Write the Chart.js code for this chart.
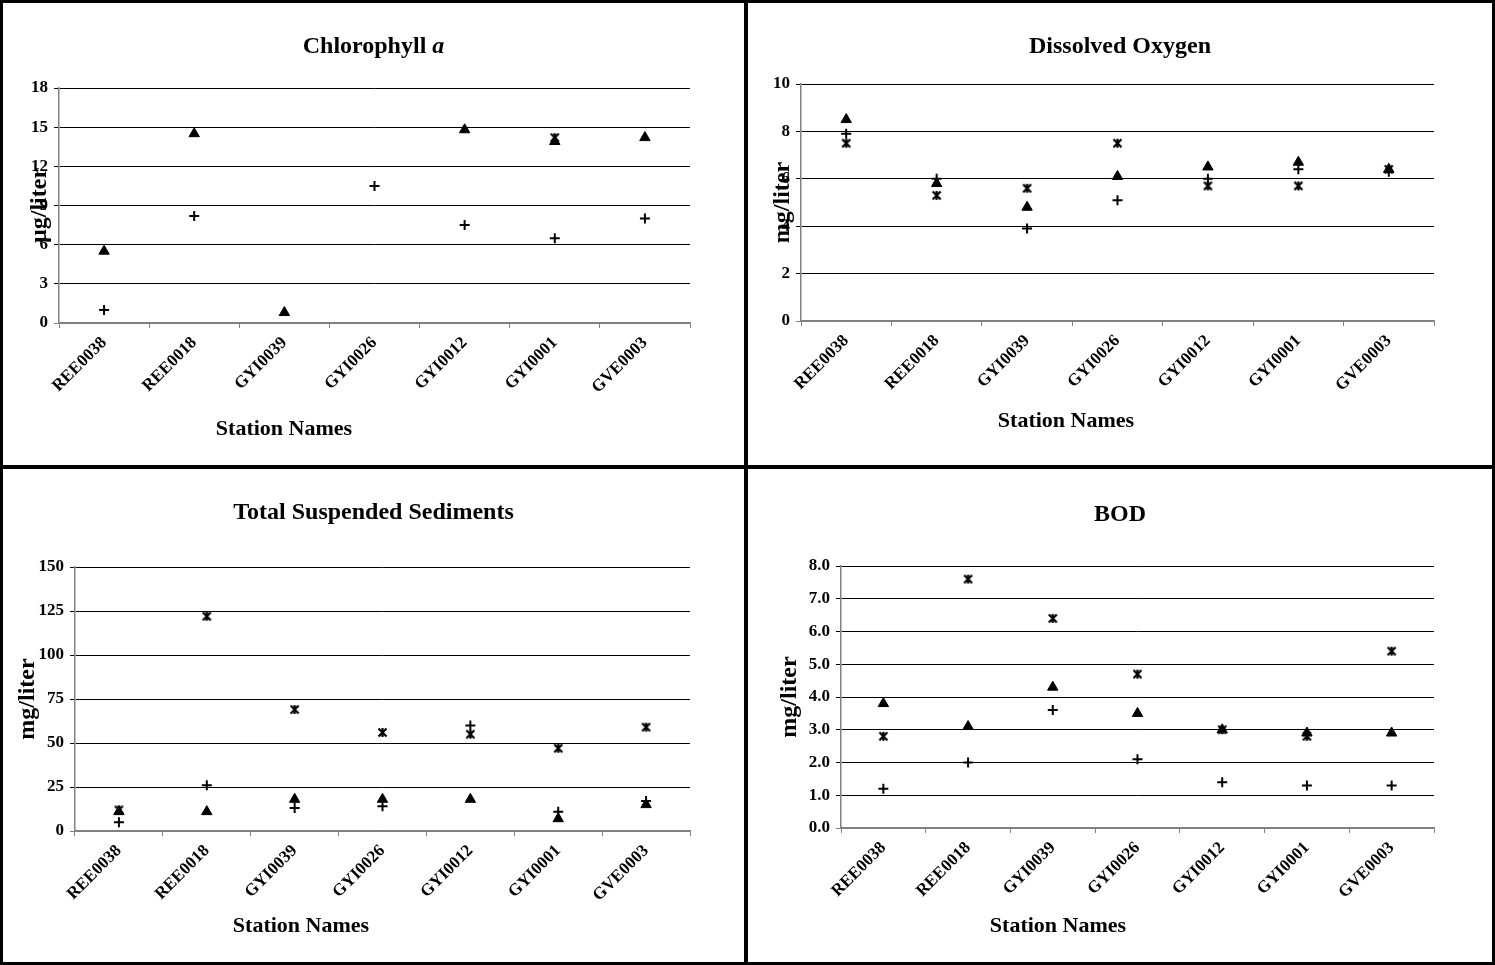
<!DOCTYPE html>
<html>
<head>
<meta charset="utf-8">
<script src="https://cdn.jsdelivr.net/npm/chart.js@4.4.0/dist/chart.umd.min.js"></script>
<style>
  html, body { margin: 0; padding: 0; background: #fff; }
  #grid {
    width: 1495px; height: 965px; box-sizing: border-box;
    background: #000; padding: 3px;
    display: grid; grid-template-columns: 741px 744px; grid-template-rows: 462px 493px; gap: 4px;
  }
  .panel { background: #fff; position: relative; overflow: hidden; }
  .panel canvas { position: absolute; left: 0; top: 0; }
</style>
</head>
<body>
<div id="grid">
  <div class="panel"><canvas id="chl" width="741" height="462"></canvas></div>
  <div class="panel"><canvas id="do" width="744" height="462"></canvas></div>
  <div class="panel"><canvas id="tss" width="741" height="493"></canvas></div>
  <div class="panel"><canvas id="bod" width="744" height="493"></canvas></div>
</div>
<script>
const stations = ['REE0038', 'REE0018', 'GYI0039', 'GYI0026', 'GYI0012', 'GYI0001', 'GVE0003'];
const seriesNames = ['Sampling 1', 'Sampling 2', 'Sampling 3'];

// Chlorophyll a (µg/liter)
const chlTriangle = [5.5, 14.5, 0.8, null, 14.8, 13.9, 14.2];
const chlPlus     = [1.0, 8.2, null, 10.5, 7.5, 6.5, 8.0];
const chlStar     = [null, null, null, null, null, 14.2, null];

// Dissolved oxygen (mg/liter)
const doTriangle = [8.5, 5.8, 4.8, 6.1, 6.5, 6.7, 6.4];
const doPlus     = [7.9, 6.0, 3.9, 5.1, 6.0, 6.4, 6.3];
const doStar     = [7.5, 5.3, 5.6, 7.5, 5.7, 5.7, 6.4];

// Total suspended sediments (mg/liter)
const tssTriangle = [11, 11, 18, 18, 18, 7, 15];
const tssPlus     = [5, 26, 13, 14, 60, 11, 17];
const tssStar     = [12, 122, 69, 56, 55, 47, 59];

// BOD (mg/liter)
const bodTriangle = [3.8, 3.1, 4.3, 3.5, 3.0, 2.9, 2.9];
const bodPlus     = [1.2, 2.0, 3.6, 2.1, 1.4, 1.3, 1.3];
const bodStar     = [2.8, 7.6, 6.4, 4.7, 3.0, 2.8, 5.4];

const FONT = '"Liberation Serif", "Times New Roman", serif';

// asterisk-like marker (x with a vertical stroke), like the spreadsheet "star"
function makeStar(size) {
  const c = document.createElement('canvas');
  c.width = size; c.height = size;
  const g = c.getContext('2d');
  g.strokeStyle = '#000';
  g.lineWidth = 2.2;
  const p = 1.5, q = size - 1.5;
  g.beginPath();
  g.moveTo(p, p); g.lineTo(q, q);
  g.moveTo(q, p); g.lineTo(p, q);
  g.moveTo(size / 2, p - 0.5); g.lineTo(size / 2, q + 0.5);
  g.stroke();
  return c;
}
const starImg = makeStar(11);

// chart title (with italic parts) and x-axis title
const panelText = {
  id: 'panelText',
  afterDraw(chart, args, opts) {
    const ctx = chart.ctx;
    ctx.save();
    ctx.fillStyle = '#000';
    ctx.textBaseline = 'middle';
    ctx.textAlign = 'left';
    const fonts = opts.title.map(s => `${s.italic ? 'italic ' : ''}bold 24px ${FONT}`);
    let total = 0;
    opts.title.forEach((s, i) => { ctx.font = fonts[i]; total += ctx.measureText(s.text).width; });
    let x = chart.width / 2 - total / 2;
    opts.title.forEach((s, i) => {
      ctx.font = fonts[i];
      ctx.fillText(s.text, x, opts.titleY);
      x += ctx.measureText(s.text).width;
    });
    ctx.font = `bold 22px ${FONT}`;
    ctx.textAlign = 'center';
    ctx.fillText(opts.xTitle, opts.xTitleX, opts.xTitleY);
    ctx.restore();
  }
};

function makePanel(id, cfg) {
  const tickFont = { family: FONT, weight: 'bold', size: 17 };
  return new Chart(document.getElementById(id), {
    type: 'line',
    data: {
      labels: stations,
      datasets: [
        { label: seriesNames[0], data: cfg.tri, pointStyle: 'triangle', pointRadius: 6,
          backgroundColor: '#000', borderColor: '#000', borderWidth: 1 },
        { label: seriesNames[1], data: cfg.plus, pointStyle: 'cross', pointRadius: 5,
          backgroundColor: '#000', borderColor: '#000', borderWidth: 2 },
        { label: seriesNames[2], data: cfg.star, pointStyle: starImg, pointRadius: 5,
          backgroundColor: '#000', borderColor: '#000' }
      ].map(d => Object.assign({ showLine: false, pointHoverRadius: d.pointRadius }, d))
    },
    options: {
      responsive: false,
      animation: false,
      layout: { padding: { top: cfg.padTop, right: cfg.padRight, left: 0, bottom: 0 } },
      plugins: {
        legend: { display: false },
        tooltip: { enabled: false },
        panelText: { title: cfg.title, titleY: cfg.titleY, xTitle: 'Station Names', xTitleX: cfg.xTitleX, xTitleY: cfg.xTitleY }
      },
      scales: {
        x: {
          offset: true,
          grid: { offset: true, drawOnChartArea: false, tickLength: 5, color: '#808080' },
          border: { color: '#808080', width: 1.5 },
          ticks: { autoSkip: false, minRotation: 45, maxRotation: 45, color: '#000', font: tickFont, padding: 5 },
          afterFit: s => { s.height = cfg.xHeight; }
        },
        y: {
          min: 0, max: cfg.max,
          grid: { color: c => (c.tick && c.tick.value === 0) ? '#808080' : '#000', tickLength: 5 },
          border: { color: '#808080', width: 1.5 },
          ticks: { stepSize: cfg.step, color: '#000', font: tickFont, padding: 6, callback: cfg.fmt },
          title: { display: true, text: cfg.yTitle, color: '#000',
                   font: { family: FONT, weight: 'bold', size: 24 }, padding: { top: cfg.yTitlePad, bottom: 0 } },
          afterFit: s => { s.width = cfg.axisX; }
        }
      }
    },
    plugins: [panelText]
  });
}

makePanel('chl', {
  tri: chlTriangle, plus: chlPlus, star: chlStar,
  title: [{ text: 'Chlorophyll ' }, { text: 'a', italic: true }],
  yTitle: 'µg/liter', max: 18, step: 3, fmt: v => v,
  padTop: 85, padRight: 54, axisX: 56, xHeight: 142, titleY: 44,
  xTitleX: 281, xTitleY: 426, yTitlePad: 22.6
});
makePanel('do', {
  tri: doTriangle, plus: doPlus, star: doStar,
  title: [{ text: 'Dissolved Oxygen' }],
  yTitle: 'mg/liter', max: 10, step: 2, fmt: v => v,
  padTop: 81, padRight: 58, axisX: 53, xHeight: 144, titleY: 44,
  xTitleX: 318, xTitleY: 418, yTitlePad: 20.6
});
makePanel('tss', {
  tri: tssTriangle, plus: tssPlus, star: tssStar,
  title: [{ text: 'Total Suspended Sediments' }],
  yTitle: 'mg/liter', max: 150, step: 25, fmt: v => v,
  padTop: 98, padRight: 54, axisX: 72, xHeight: 131, titleY: 44,
  xTitleX: 298, xTitleY: 457, yTitlePad: 10.6
});
makePanel('bod', {
  tri: bodTriangle, plus: bodPlus, star: bodStar,
  title: [{ text: 'BOD' }],
  yTitle: 'mg/liter', max: 8, step: 1, fmt: v => Number(v).toFixed(1),
  padTop: 97, padRight: 58, axisX: 93, xHeight: 134, titleY: 46,
  xTitleX: 310, xTitleY: 457, yTitlePad: 27.6
});
</script>
</body>
</html>
